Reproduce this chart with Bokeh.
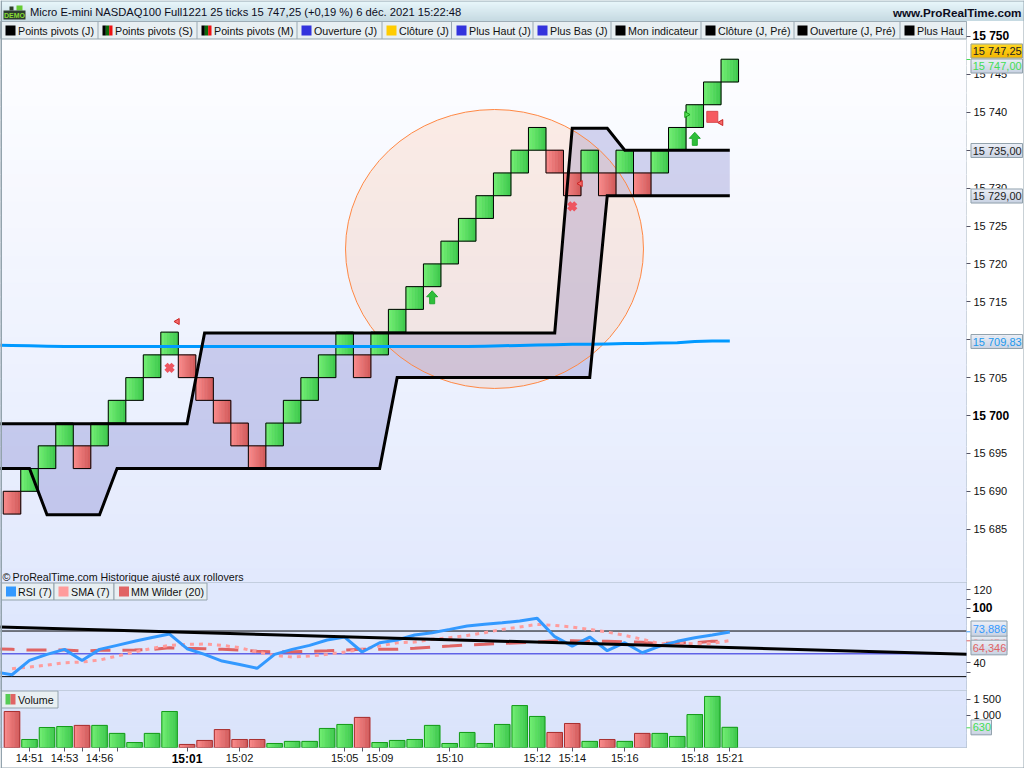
from bokeh.plotting import figure
from bokeh.layouts import column
from bokeh.models import Range1d, Label, FixedTicker
from bokeh.core.properties import value
from bokeh.embed import file_html
from bokeh.resources import INLINE

# ---------- data ----------
brick_open = [15690,15690,15693,15696,15696,15696,15699,15702,15705,15708,15708,15705,15702,15699,15696,15696,15699,15702,15705,15708,
              15708,15708,15711,15714,15717,15720,15723,15726,15729,15732,15735,15735,15732,15732,15732,15732,15732,15732,15735,15738,15741,15744]
brick_close = [15687,15693,15696,15699,15693,15699,15702,15705,15708,15711,15705,15702,15699,15696,15693,15699,15702,15705,15708,15711,
               15705,15711,15714,15717,15720,15723,15726,15729,15732,15735,15738,15732,15729,15735,15729,15735,15729,15735,15738,15741,15744,15747]
volume = [1125,250,625,655,690,690,440,155,440,1125,95,220,560,250,250,125,190,190,595,720,940,155,220,
          250,690,125,470,125,720,1310,970,470,750,190,250,190,440,440,345,1030,1595,630]
line_x = list(range(-1, 42))
band_high = [15698.9,15698.9,15698.9,15698.9,15698.9,15698.9,15698.9,15698.9,15698.9,15698.9,15698.9,15698.9,
             15710.9,15710.9,15710.9,15710.9,15710.9,15710.9,15710.9,15710.9,15710.9,15710.9,15710.9,15710.9,15710.9,15710.9,15710.9,15710.9,15710.9,15710.9,15710.9,15710.9,15710.9,
             15737.9,15737.9,15737.9,15735,15735,15735,15735,15735,15735,15735]
band_low = [15693,15693,15693,15686.9,15686.9,15686.9,15686.9,
            15693,15693,15693,15693,15693,15693,15693,15693,15693,15693,15693,15693,15693,15693,15693,15693,
            15705,15705,15705,15705,15705,15705,15705,15705,15705,15705,15705,15705,
            15729,15729,15729,15729,15729,15729,15729,15729]
mid_line = [15709.3,15709.25,15709.2,15709.15,15709.1,15709.1,15709.1,15709.1,15709.1,15709.1,15709.1,15709.1,15709.1,15709.1,15709.1,15709.1,
            15709.1,15709.1,15709.1,15709.1,15709.1,15709.1,15709.1,15709.1,15709.1,15709.1,15709.1,15709.1,15709.15,15709.2,15709.25,15709.3,15709.35,
            15709.4,15709.4,15709.45,15709.5,15709.5,15709.55,15709.6,15709.75,15709.83,15709.83]
rsi = [30.4,27.1,42.8,49.4,54.9,42.8,54.9,59.3,63.7,68.0,71.7,55.6,49.4,42.1,38.4,34.1,49.4,54.9,59.3,65.1,68.4,52.0,62.2,65.1,
       70.6,73.2,76.8,80.5,82.3,84.1,86.0,88.9,68.8,58.5,68.4,53.4,62.2,51.2,58.5,63.7,67.7,70.6,73.886]
sma_x = list(range(0, 42))
sma = [33.7,35.5,37.7,40.3,41.0,43.2,47.6,52.0,56.0,59.3,60.4,60.7,59.3,56.7,52.0,48.3,46.5,47.6,49.4,52.0,54.9,58.5,62.2,
       62.9,65.9,67.7,70.2,73.2,76.8,79.4,82.3,81.2,79.4,76.8,73.9,70.2,65.9,61.1,61.5,61.1,61.5,64.454]
wilder = [55.6,54.9,54.2,54.2,54.2,53.1,53.8,53.8,54.2,54.9,56.7,56.0,55.6,54.9,54.2,52.7,52.3,52.3,52.7,53.4,54.2,54.9,54.9,54.9,
          56.0,57.5,58.5,59.6,60.4,61.5,62.2,62.9,64.4,64.4,63.7,63.7,63.3,62.6,61.1,62.2,62.2,63.7,64.346]
trend_x = [-1, 55]
trend_y = [79.6, 49.2]
rsi_levels = [75, 50, 25]
rsi_level_colors = ["black", "#2222dd", "black"]
circle_x, circle_y, circle_w, circle_h = 27.56, 15721.97, 17.02, 36.8
cross_x, cross_y = [9, 32], [15706.3, 15727.6]
arrow_x, arrow_y = [24, 39], [15715.6, 15736.5]
left_tri_x, left_tri_y = [9.45, 32.47, 40.5], [15712.4, 15730.6, 15738.65]
right_tri_x, right_tri_y = [38.53], [15739.7]
square_x, square_y = [40], [15739.4]

price_ticks = [15685,15690,15695,15700,15705,15710,15715,15720,15725,15730,15735,15740,15745,15750]
rsi_ticks = [40, 100, 120]
rsi_minor = [30, 90, 110]
vol_ticks = [1000, 1500]
x_ticks = [1,3,4,5,6,10,13,19,20,21,25,30,32,35,39,41]
x_labels = {1:"14:51",3:"14:53",5:"14:56",13:"15:02",19:"15:05",21:"15:09",25:"15:10",30:"15:12",32:"15:14",35:"15:16",39:"15:18",41:"15:21"}

title = "Micro E-mini NASDAQ100 Full1221 25 ticks 15 747,25 (+0,19 %) 6 déc. 2021 15:22:48"
site = "www.ProRealTime.com"
legend_items = ["Points pivots (J)","Points pivots (S)","Points pivots (M)","Ouverture (J)","Clôture (J)","Plus Haut (J)",
                "Plus Bas (J)","Mon indicateur","Clôture (J, Pré)","Ouverture (J, Pré)","Plus Haut"]
legend_swatch = [["#000000"],["#000000","#0b6a0b","#ee1111"],["#000000","#0b6a0b","#ee1111"],["#3333dd"],["#ffcc00"],["#3333dd"],
                 ["#3333dd"],["#000000"],["#000000"],["#000000"],["#000000"]]
legend_sw_x = [5,102,201,301,386,456,537,615,705,797,904]
legend_sep = [97.5,196.5,296.5,381.5,451,532.5,610.5,700.5,793.5,899.5]

# value tags on the right scale: text, colour, box (x0, x1, y0, y1)
tags = [("15 735,00", "#222222", (970.5, 1022, 143, 157)),
        ("15 729,00", "#222222", (970.5, 1022, 188.5, 202.5)),
        ("15 709,83", "#2299ee", (970.5, 1022, 334, 348)),
        ("15 747,00", "#44dd55", (970.5, 1022, 58.5, 72.5)),
        ("15 747,25", "#222222", (970.5, 1022, 43.5, 57.5)),
        ("64,454", "#ff9c9c", (970.5, 1006.5, 635, 650)),
        ("64,346", "#e06464", (970.5, 1006.5, 639.7, 654.3)),
        ("73,886", "#3399ff", (970.5, 1006.5, 620.5, 635.7)),
        ("630", "#44dd55", (970.5, 991, 719.5, 734.3))]
bold_labels = [("15 750", 972, 35.7, "left"), ("15 700", 972, 415, "left"), ("100", 972, 606.5, "left"), ("15:01", 186.5, 758, "center")]
tag_ticks = [(59, "#44dd55"), (631.3, "#3399ff"), (640.3, "#e06464"), (727.3, "#44dd55")]

FONT = "Liberation Sans"
X_RANGE = (-0.657, 54.52)
AXIS_C = "#93a3ad"

def mix(a, b, t):
    ca = [int(a[i:i+2], 16) for i in (1, 3, 5)]
    cb = [int(b[i:i+2], 16) for i in (1, 3, 5)]
    return "#%02x%02x%02x" % tuple(round(u + (v - u) * t) for u, v in zip(ca, cb))

def panel(frame_h, yr, px_top, px_bottom, ticks, overrides, bottom=0):
    p = figure(frame_width=966, frame_height=frame_h, width=1024, height=frame_h + bottom,
               x_range=Range1d(*X_RANGE), y_range=Range1d(*yr),
               x_axis_location="below" if bottom else None, y_axis_location="right",
               toolbar_location=None, output_backend="svg",
               min_border_left=0, min_border_right=58, min_border_top=0, min_border_bottom=bottom,
               background_fill_color="white", border_fill_color="white")
    p.grid.visible = False
    p.outline_line_color = AXIS_C
    p.outline_line_width = 1
    p.extra_x_ranges["px"] = Range1d(0, 966)
    p.extra_y_ranges["px"] = Range1d(px_bottom, px_top)
    ax = p.yaxis[0]
    ax.ticker = FixedTicker(ticks=ticks)
    ax.major_label_overrides = overrides
    ax.axis_line_color = None
    ax.major_tick_line_color = "#556"
    ax.major_tick_in = 0
    ax.major_tick_out = 4
    ax.minor_tick_line_color = None
    ax.major_label_text_font = FONT
    ax.major_label_text_font_size = "11px"
    ax.major_label_text_color = "#111111"
    ax.major_label_standoff = 3
    return p

def vgrad(p, top, bottom, c0, c1, n=40):
    ys = [top + (bottom - top) * i / n for i in range(n + 1)]
    cols = [mix(c0, c1, (i + .5) / n) for i in range(n)]
    p.quad(left=0, right=966, top=ys[:-1], bottom=ys[1:], fill_color=cols, line_color=cols, line_width=1,
           x_range_name="px", y_range_name="px")

def px_text(p, x, y, text, size="10.7px", color="#111111"):
    p.add_layout(Label(x=x, y=y, x_range_name="px", y_range_name="px", text=text, text_font=FONT,
                       text_font_size=size, text_color=color, text_align="left", text_baseline="middle",
                       level="overlay"))

def px_box(p, x0, x1, y0, y1, fill, line=None):
    p.quad(left=x0, right=x1, top=y0, bottom=y1, fill_color=fill, line_color=line, line_width=1,
           x_range_name="px", y_range_name="px")

def grad_bars(p, xs, lows, highs, colors, width, pal, n=6):
    for k in range(n):
        t0 = -width / 2 + width * k / n
        t1 = t0 + width / n
        cols = [mix(*pal[c][:2], (k + .5) / n) for c in colors]
        p.quad(left=[x + t0 for x in xs], right=[x + t1 for x in xs], top=highs, bottom=lows,
               fill_color=cols, line_color=cols, line_width=0.6)
    p.quad(left=[x - width / 2 for x in xs], right=[x + width / 2 for x in xs], top=highs, bottom=lows,
           fill_color=None, line_color=[pal[c][2] for c in colors], line_width=1)

# ---------- header ----------
head = figure(frame_width=1024, frame_height=21, width=1024, height=21, x_range=Range1d(0, 1024), y_range=Range1d(21, 0),
              x_axis_location=None, y_axis_location=None, toolbar_location=None, output_backend="svg",
              min_border=0, outline_line_color=None, border_fill_color="white")
head.grid.visible = False
n = 21
head.quad(left=0, right=1024, top=[i for i in range(n)], bottom=[i + 1 for i in range(n)],
          fill_color=[mix("#eaf8fc", "#c6dae2", i / (n - 1)) for i in range(n)],
          line_color=[mix("#eaf8fc", "#c6dae2", i / (n - 1)) for i in range(n)])
head.quad(left=[9, 16, 3], right=[13, 22, 25], top=[6, 5, 10], bottom=[10, 10, 19],
          fill_color=["#2f3f2a", "#66cc33", "#2d3d30"], line_color=None)
head.add_layout(Label(x=14, y=14.7, text="DEMO", text_font=FONT, text_font_size="7px", text_font_style="bold",
                      text_color="#88dd33", text_align="center", text_baseline="middle"))
head.add_layout(Label(x=29.5, y=11.5, text=title, text_font=FONT, text_font_size="11.2px", text_color="#0c0c1c",
                      text_baseline="middle"))
head.add_layout(Label(x=1021, y=11.5, text=site, text_font=FONT, text_font_size="11.7px", text_font_style="bold",
                      text_color="#0c0c1c", text_align="right", text_baseline="middle"))

# ---------- main panel ----------
price_over = {t: f"{t // 1000} {t % 1000:03d}" for t in price_ticks}
price_over[15700] = ""
price_over[15750] = ""
main = panel(561, (15677.97, 15751.98), 21, 582, price_ticks, price_over)
vgrad(main, 38, 582, "#fefeff", "#e2e9fd")

main.varea(x=line_x, y1=band_low, y2=band_high, fill_color="#3333aa", fill_alpha=0.2)
main.ellipse(x=circle_x, y=circle_y, width=circle_w, height=circle_h, fill_color="#ff9a5c", fill_alpha=0.16,
             line_color="#ff8844", line_width=1)
PAL = {"g": ("#74f074", "#3cc84c", "#000000"), "r": ("#fb8c8c", "#d25a5a", "#000000")}
colors = ["g" if c > o else "r" for o, c in zip(brick_open, brick_close)]
bx = list(range(len(brick_open)))
grad_bars(main, bx, [min(a, b) for a, b in zip(brick_open, brick_close)],
          [max(a, b) for a, b in zip(brick_open, brick_close)], colors, 1.0, PAL)
main.line(line_x, mid_line, line_color="#0099ff", line_width=3)
main.line(line_x, band_high, line_color="black", line_width=3, line_join="miter")
main.line(line_x, band_low, line_color="black", line_width=3, line_join="miter")

main.scatter(cross_x, cross_y, marker="x", size=10, line_color="#ee5560", line_width=4.5)
ax_w, ax_h = 1 / 17.507, 1 / 7.58
main.patches([[x + d * ax_w for d in (0, 5.5, 2.5, 2.5, -2.5, -2.5, -5.5)] for x in arrow_x],
             [[y + d * ax_h for d in (6.5, 0.5, 0.5, -6.5, -6.5, 0.5, 0.5)] for y in arrow_y],
             fill_color="#2fbf3a", line_color="#22aa30", line_width=1)
main.scatter(left_tri_x, left_tri_y, marker="triangle", size=6, angle=1.5708, fill_color="#f46a6a", line_color="#cc2222")
main.scatter(right_tri_x, right_tri_y, marker="triangle", size=6, angle=-1.5708, fill_color="#55dd55", line_color="#119911")
main.scatter(square_x, square_y, marker="square", size=11, fill_color="#f65a60", line_color="#d84c50")

# legend bar
px_box(main, 0, 966, 21, 38.5, "#e8eff2", AXIS_C)
for s in legend_sep:
    main.segment(x0=s, x1=s, y0=21, y1=38.5, line_color="#9aaab4", x_range_name="px", y_range_name="px")
for name, sw, sx in zip(legend_items, legend_swatch, legend_sw_x):
    w = 10 / len(sw)
    for j, c in enumerate(sw):
        px_box(main, sx + j * w, sx + (j + 1) * w, 25, 35, c)
    px_text(main, sx + 12.5, 30, name)
px_text(main, 2, 576, "©")
px_text(main, 12, 576, "ProRealTime.com")
px_text(main, 100, 576, "Historique ajusté aux rollovers")

# ---------- RSI panel ----------
rsi_over = {t: str(t) for t in rsi_ticks}
rsi_over[100] = ""
p_rsi = panel(108, (9.8, 128.2), 582, 690, rsi_ticks + rsi_minor, {**rsi_over, 30: "", 90: "", 110: ""})
vgrad(p_rsi, 582, 690, "#e0e8fd", "#dee6fc", n=10)
for lv, c in zip(rsi_levels, rsi_level_colors):
    p_rsi.line(X_RANGE, [lv, lv], line_color=c, line_width=1)
p_rsi.line(line_x, wilder, line_color="#e06464", line_width=3, line_dash="20 12")
p_rsi.line(sma_x, sma, line_color="#ff9c9c", line_width=3, line_dash="4 5")
p_rsi.line(line_x, rsi, line_color="#3399ff", line_width=3)
p_rsi.line(trend_x, trend_y, line_color="black", line_width=3)
px_box(p_rsi, 1, 53.5, 582.5, 599.5, "#e8eff2", AXIS_C)
px_box(p_rsi, 53.5, 113.5, 582.5, 599.5, "#e8eff2", AXIS_C)
px_box(p_rsi, 113.5, 206.5, 582.5, 599.5, "#e8eff2", AXIS_C)
px_box(p_rsi, 5.5, 15.5, 586, 596, "#3399ff")
px_box(p_rsi, 58, 68, 586, 596, "#ff9c9c")
px_box(p_rsi, 118.5, 128.5, 586, 596, "#e06464")
px_text(p_rsi, 17.5, 591, "RSI (7)")
px_text(p_rsi, 70.5, 591, "SMA (7)")
px_text(p_rsi, 130.5, 591, "MM Wilder (20)")

# ---------- volume panel ----------
vol_over = {1000: "1 000", 1500: "1 500"}
p_vol = panel(57, (0, 1781), 690, 747, vol_ticks, vol_over, bottom=21)
vgrad(p_vol, 690, 747, "#dee6fc", "#d9e3fa", n=8)
PALV = {"g": ("#74f074", "#3cc84c", "#159a1a"), "r": ("#fb8c8c", "#d25a5a", "#a83030")}
grad_bars(p_vol, bx, [0] * len(volume), volume, colors, 0.885, PALV)
px_box(p_vol, 1, 57.5, 690.5, 707.5, "#e8eff2", AXIS_C)
px_box(p_vol, 5, 10, 693.5, 704, "#55cc55")
px_box(p_vol, 10, 15, 693.5, 704, "#e06464")
px_text(p_vol, 17.5, 699, "Volume")
xa = p_vol.xaxis[0]
xa.ticker = FixedTicker(ticks=x_ticks)
xa.major_label_overrides = {t: x_labels.get(t, "") for t in x_ticks}
xa.axis_line_color = None
xa.major_tick_line_color = "#556"
xa.major_tick_in = 0
xa.major_tick_out = 4
xa.minor_tick_line_color = None
xa.major_label_text_font = FONT
xa.major_label_text_font_size = "11px"
xa.major_label_text_color = "#111111"
xa.major_label_standoff = 0

# ---------- transparent top layer for the tags and bold scale labels ----------
top = figure(frame_width=1024, frame_height=768, width=1024, height=768, x_range=Range1d(0, 1024), y_range=Range1d(768, 0),
             x_axis_location=None, y_axis_location=None, toolbar_location=None, output_backend="svg", min_border=0,
             outline_line_color=None, background_fill_color=None, border_fill_color=None, margin=(-768, 0, 0, 0))
top.grid.visible = False
top.quad(left=[0, 0, 1023, 0], right=[1.5, 1024, 1024, 1024], top=[0, 0, 0, 767], bottom=[768, 1, 768, 768],
         fill_color=AXIS_C, line_color=None)
for y, c in tag_ticks:
    top.segment(x0=966, x1=970, y0=y, y1=y, line_color=c)
for text, col, (x0, x1, y0, y1) in tags:
    gold = text == "15 747,25"
    c0, c1 = ("#ffd824", "#f4b800") if gold else ("#eceff7", "#c8d2e2")
    m = 7
    ys = [y0 + (y1 - y0) * i / m for i in range(m + 1)]
    cols = [mix(c0, c1, (i + .5) / m) for i in range(m)]
    top.quad(left=x0, right=x1, top=ys[:-1], bottom=ys[1:], fill_color=cols, line_color=cols, line_width=0.5)
    top.quad(left=x0, right=x1, top=y0, bottom=y1, fill_color=None, line_color="#93a3ad", line_width=1)
    top.text(x=[x0 + 1.7], y=[(y0 + y1) / 2], text=[text], text_font=value(FONT), text_font_size="11px",
             text_color=col, text_baseline="middle", text_align="left")
for text, x, y, al in bold_labels:
    top.text(x=[x], y=[y], text=[text], text_font=value(FONT), text_font_size="12px", text_font_style="bold",
             text_color="#000000", text_baseline="middle", text_align=al)

page = column(head, main, p_rsi, p_vol, top, spacing=0)
open("out.html", "w").write(file_html(page, INLINE))
